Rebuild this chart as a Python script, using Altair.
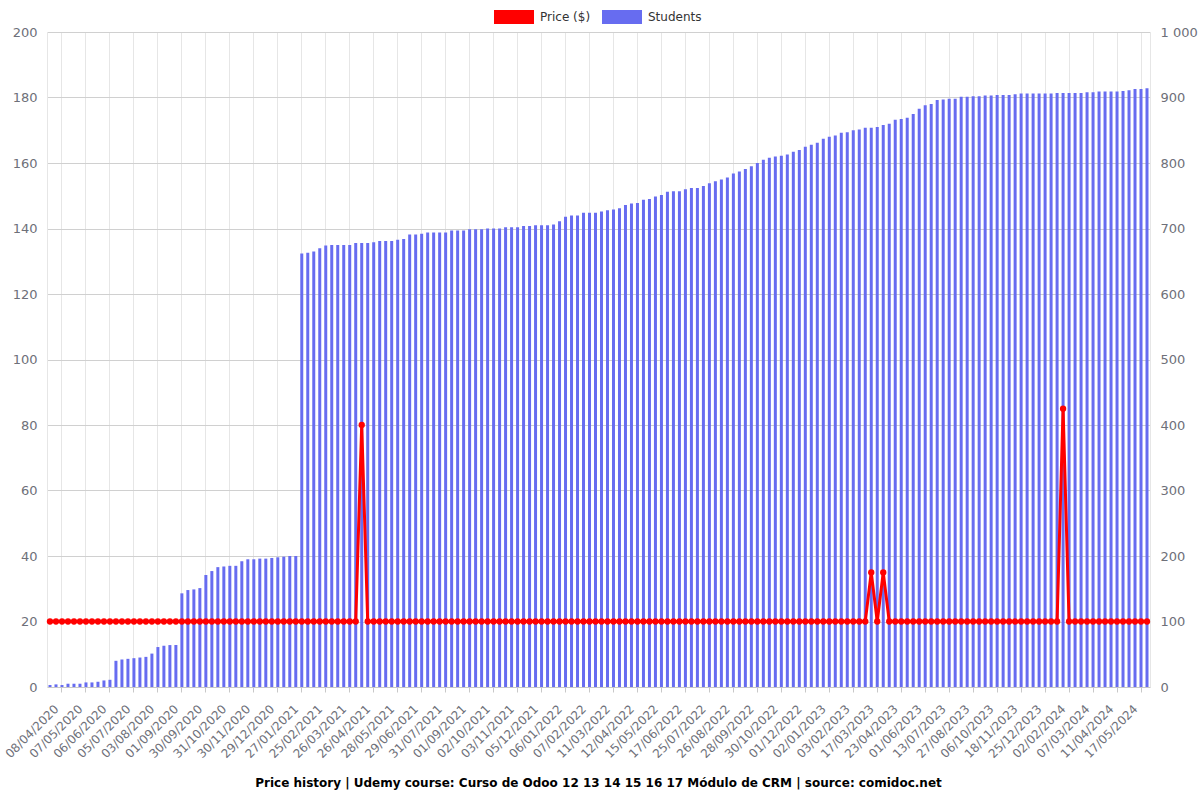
import json
import altair as alt
import pandas as pd

# ---- data ----
date_labels = [
    "08/04/2020", "07/05/2020", "06/06/2020", "05/07/2020", "03/08/2020", "01/09/2020",
    "30/09/2020", "31/10/2020", "30/11/2020", "29/12/2020", "27/01/2021", "25/02/2021",
    "26/03/2021", "26/04/2021", "28/05/2021", "29/06/2021", "31/07/2021", "01/09/2021",
    "02/10/2021", "03/11/2021", "05/12/2021", "06/01/2022", "07/02/2022", "11/03/2022",
    "12/04/2022", "15/05/2022", "17/06/2022", "25/07/2022", "26/08/2022", "28/09/2022",
    "30/10/2022", "01/12/2022", "02/01/2023", "03/02/2023", "17/03/2023", "23/04/2023",
    "01/06/2023", "13/07/2023", "27/08/2023", "06/10/2023", "18/11/2023", "25/12/2023",
    "02/02/2024", "07/03/2024", "11/04/2024", "17/05/2024",
]

students = [
    3, 4, 3, 5, 5, 5, 7, 7, 8, 10,
    11, 40, 42, 43, 44, 45, 46, 51, 61, 63,
    64, 64, 143, 148, 149, 151, 171, 177, 183, 184,
    185, 185, 192, 195, 195, 196, 196, 197, 198, 199,
    200, 200, 662, 663, 665, 670, 674, 675, 675, 675,
    675, 678, 678, 678, 679, 681, 681, 681, 683, 684,
    691, 691, 692, 694, 694, 694, 694, 697, 697, 697,
    699, 699, 699, 700, 700, 700, 702, 702, 702, 704,
    704, 705, 705, 705, 706, 711, 718, 720, 720, 724,
    724, 724, 726, 728, 729, 731, 736, 738, 739, 744,
    745, 749, 751, 756, 757, 757, 760, 762, 762, 765,
    769, 772, 775, 778, 784, 787, 791, 795, 800, 805,
    808, 810, 811, 813, 817, 820, 825, 828, 831, 837,
    840, 842, 846, 847, 850, 851, 854, 854, 855, 858,
    860, 866, 867, 869, 875, 883, 888, 890, 896, 897,
    898, 898, 901, 901, 902, 902, 903, 903, 904, 904,
    904, 905, 906, 906, 906, 906, 906, 906, 907, 907,
    907, 907, 907, 908, 908, 909, 909, 909, 909, 910,
    911, 913, 913, 914,
]

price = [
    20, 20, 20, 20, 20, 20, 20, 20, 20, 20,
    20, 20, 20, 20, 20, 20, 20, 20, 20, 20,
    20, 20, 20, 20, 20, 20, 20, 20, 20, 20,
    20, 20, 20, 20, 20, 20, 20, 20, 20, 20,
    20, 20, 20, 20, 20, 20, 20, 20, 20, 20,
    20, 20, 80, 20, 20, 20, 20, 20, 20, 20,
    20, 20, 20, 20, 20, 20, 20, 20, 20, 20,
    20, 20, 20, 20, 20, 20, 20, 20, 20, 20,
    20, 20, 20, 20, 20, 20, 20, 20, 20, 20,
    20, 20, 20, 20, 20, 20, 20, 20, 20, 20,
    20, 20, 20, 20, 20, 20, 20, 20, 20, 20,
    20, 20, 20, 20, 20, 20, 20, 20, 20, 20,
    20, 20, 20, 20, 20, 20, 20, 20, 20, 20,
    20, 20, 20, 20, 20, 20, 20, 35, 20, 35,
    20, 20, 20, 20, 20, 20, 20, 20, 20, 20,
    20, 20, 20, 20, 20, 20, 20, 20, 20, 20,
    20, 20, 20, 20, 20, 20, 20, 20, 20, 85,
    20, 20, 20, 20, 20, 20, 20, 20, 20, 20,
    20, 20, 20, 20,
]

n = len(students)
df = pd.DataFrame({
    "idx": list(range(n)),
    "students": students,
    "price": price,
    "series": ["Students"] * n,
})

FONT = "DejaVu Sans"
GRAY = "#6e7079"
BLUE = "#676cf0"
RED = "#ff0000"

tick_vals = list(range(2, n, 4))
label_expr = json.dumps(date_labels) + "[(datum.value - 2) / 4]"

x_enc = alt.X(
    "idx:O",
    scale=alt.Scale(paddingInner=0.5, paddingOuter=0.25),
    axis=alt.Axis(
        title=None,
        values=tick_vals,
        labelExpr=label_expr,
        labelAngle=-45,
        labelFontSize=12,
        labelColor=GRAY,
        labelOffset=-9,
        labelPadding=11,
        tickColor="#c8c8c8",
        tickSize=5,
        domainColor="#c8c8c8",
        grid=True,
        gridColor="#e6e6e6",
    ),
)

bars = alt.Chart(df).mark_bar(color=BLUE).encode(
    x=x_enc,
    y=alt.Y(
        "students:Q",
        scale=alt.Scale(domain=[0, 1000]),
        axis=alt.Axis(
            orient="right",
            title=None,
            values=list(range(0, 1001, 100)),
            labelExpr="replace(format(datum.value, ','), ',', ' ')",
            labelFontSize=13,
            labelColor=GRAY,
            ticks=False,
            domain=True,
            domainColor="#e6e6e6",
            grid=False,
            labelPadding=10,
        ),
    ),
    color=alt.Color(
        "series:N",
        scale=alt.Scale(domain=["Price ($)", "Students"], range=[RED, BLUE]),
        legend=alt.Legend(
            title=None,
            orient="none",
            direction="horizontal",
            legendX=447,
            legendY=-35,
            symbolType="M-1,-0.35L1,-0.35L1,0.35L-1,0.35Z",
            symbolSize=1600,
            symbolStrokeWidth=0,
            symbolOpacity=1,
            labelFontSize=12,
            labelColor="#333333",
            labelOffset=6,
            columnPadding=11,
        ),
    ),
)

line = alt.Chart(df).mark_line(
    color=RED,
    strokeWidth=3,
    point=alt.OverlayMarkDef(filled=True, color=RED, size=40, opacity=1),
).encode(
    x=x_enc,
    y=alt.Y(
        "price:Q",
        scale=alt.Scale(domain=[0, 200]),
        axis=alt.Axis(
            orient="left",
            title=None,
            values=list(range(0, 201, 20)),
            labelFontSize=13,
            labelColor=GRAY,
            ticks=False,
            domain=True,
            domainColor="#e6e6e6",
            grid=True,
            gridColor="#d0d0d0",
            labelPadding=10,
        ),
    ),
)

chart = (
    alt.layer(bars, line)
    .resolve_scale(y="independent")
    .properties(
        width=1103,
        height=655,
        autosize=alt.AutoSizeParams(type="none"),
        padding={"left": 47, "top": 32, "right": 50, "bottom": 113},
        title=alt.TitleParams(
            text="Price history | Udemy course: Curso de Odoo 12 13 14 15 16 17 Módulo de CRM | source: comidoc.net",
            orient="bottom",
            anchor="middle",
            fontSize=12,
            fontWeight="bold",
            color="#000000",
            font=FONT,
            offset=18,
        ),
    )
    .configure(font=FONT)
    .configure_view(stroke=None)
)

chart.save("out.html", embed_options={"renderer": "svg", "actions": False})
